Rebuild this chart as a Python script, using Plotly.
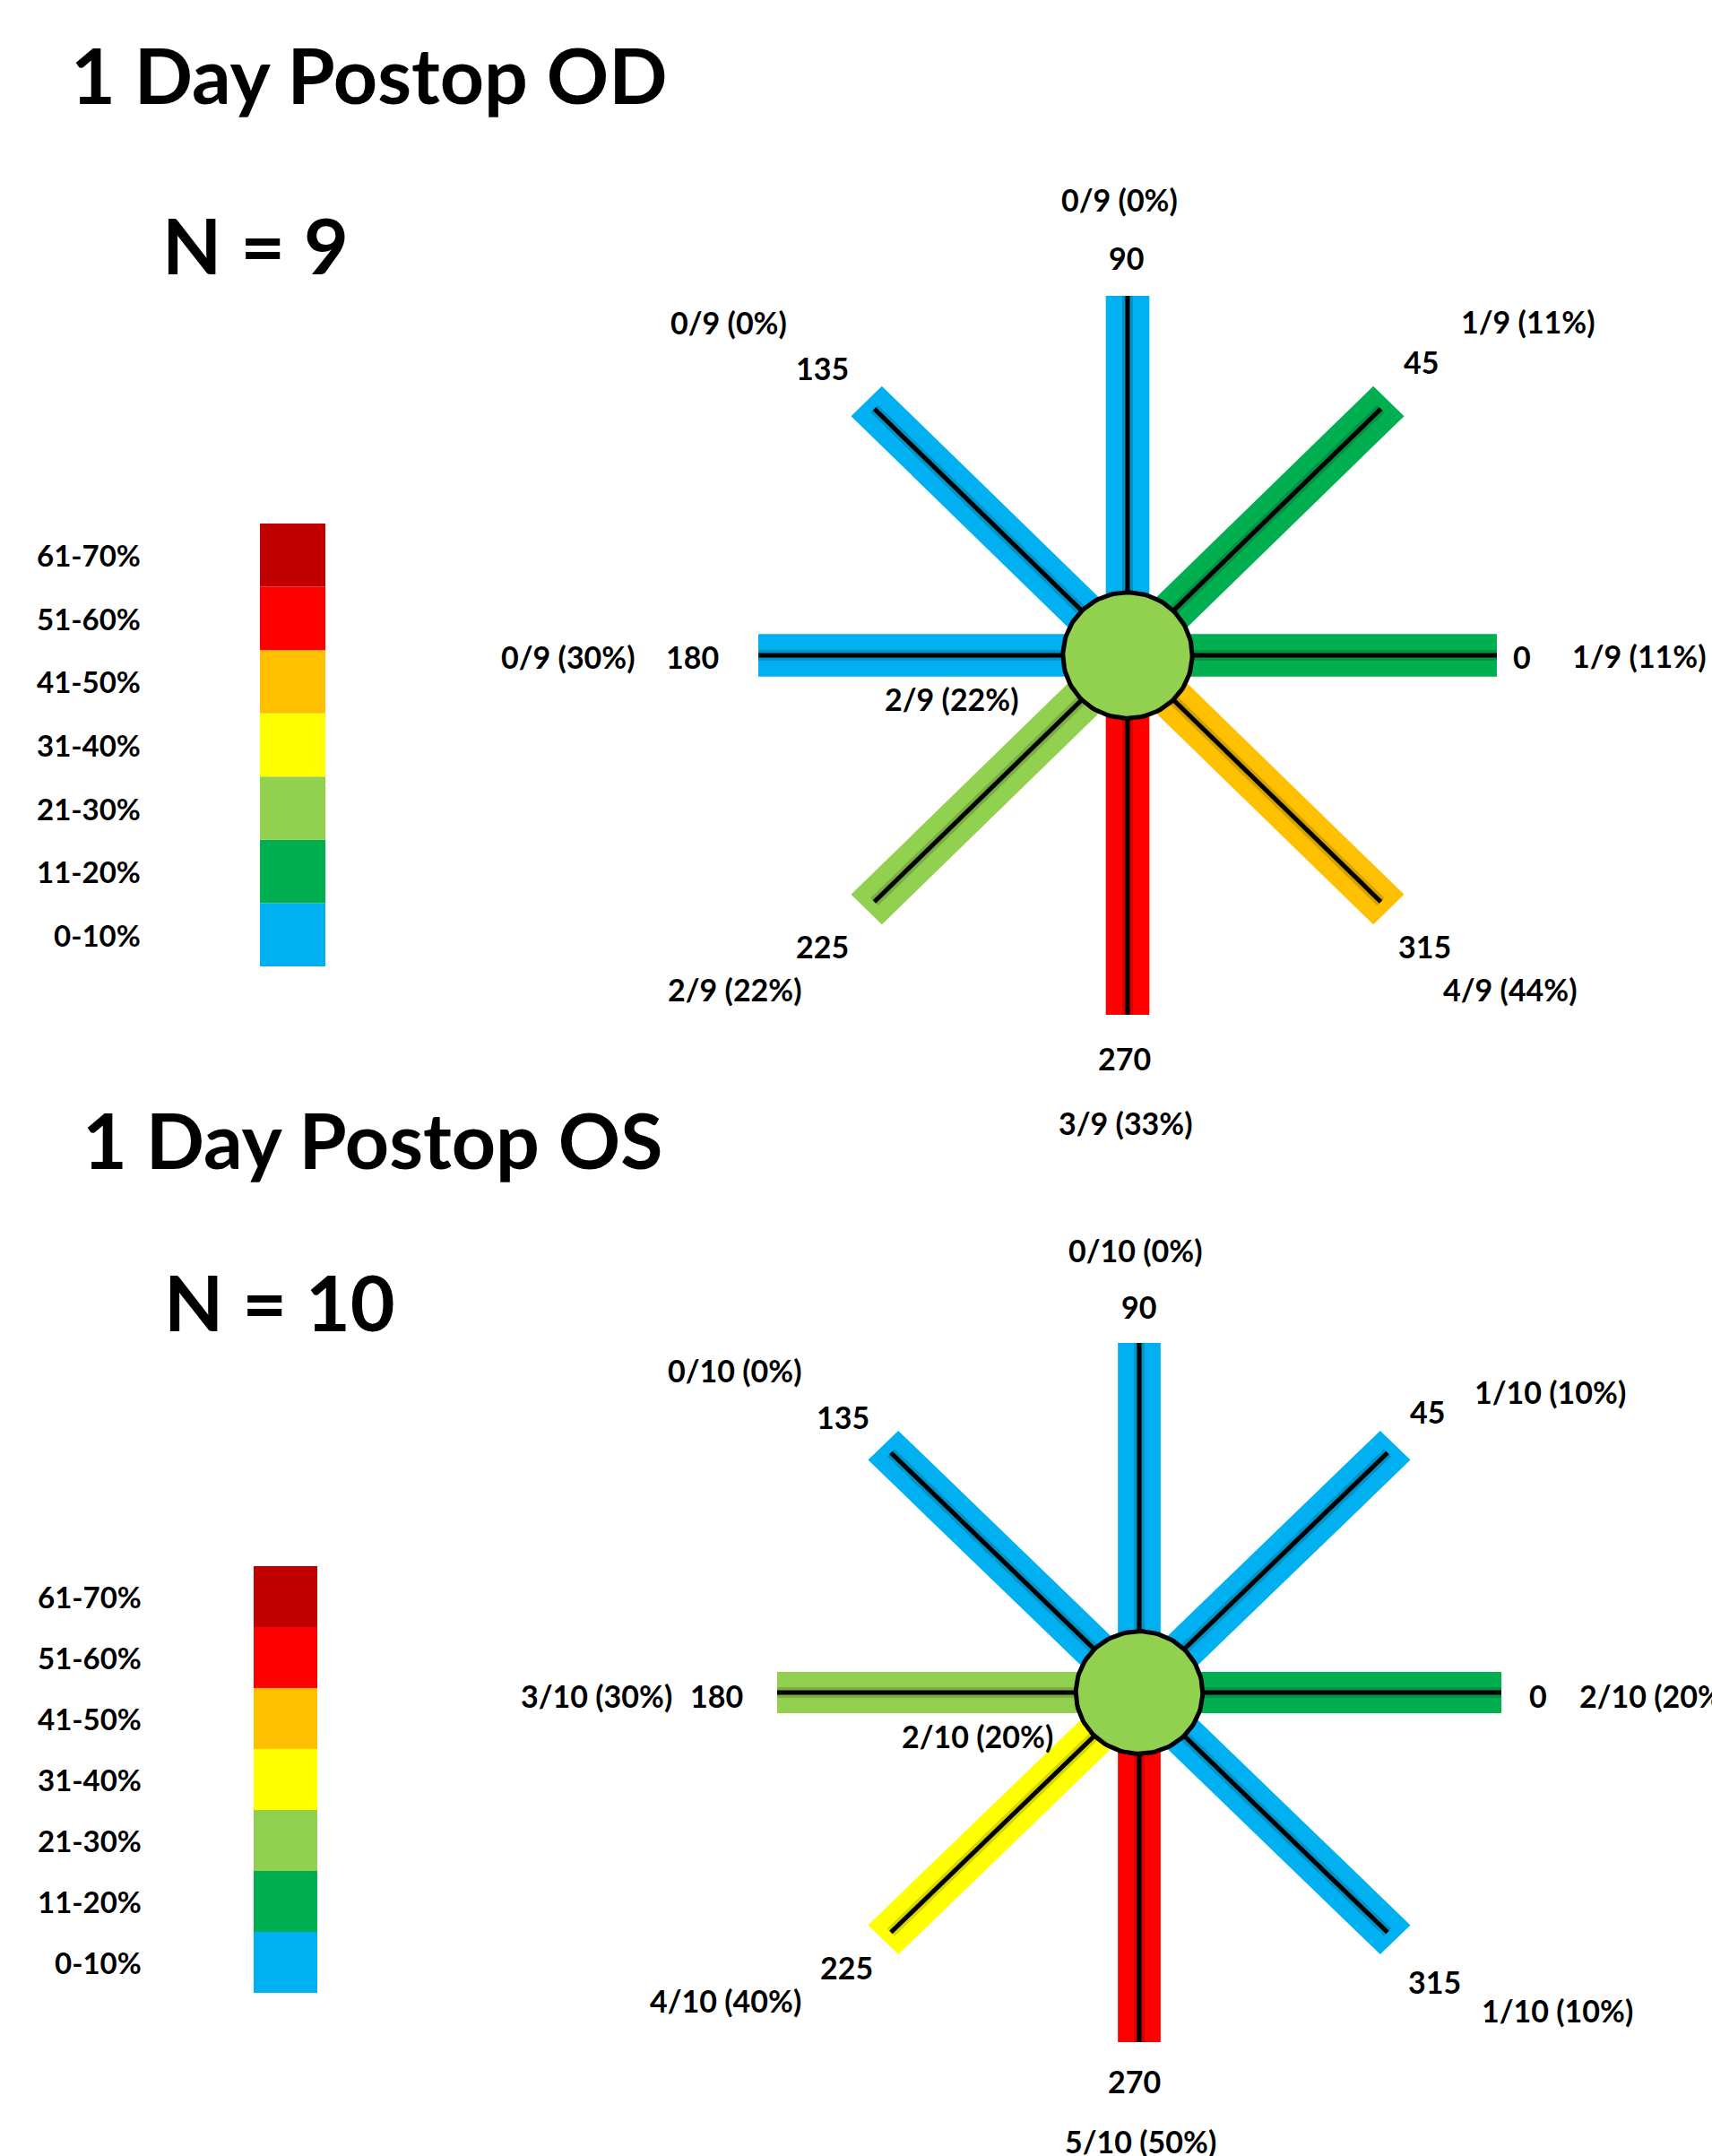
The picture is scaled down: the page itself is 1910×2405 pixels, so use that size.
import math
import plotly.graph_objects as go

# ---------------- data ----------------
angles = [0, 45, 90, 135, 180, 225, 270, 315]

legend_bins = ["0-10%", "11-20%", "21-30%", "31-40%", "41-50%", "51-60%", "61-70%"]
legend_colors = ["#00B0F0", "#00B050", "#92D050", "#FFFF00", "#FFC000", "#FF0000", "#C00000"]

od_title = "1 Day Postop OD"
od_n = 9
od_counts = [1, 1, 0, 0, 0, 2, 3, 4]
od_pct_labels = [11, 11, 0, 0, 30, 22, 33, 44]   # as printed in the figure
od_bins = [1, 1, 0, 0, 0, 2, 5, 4]               # colour bin of each arm
od_center_count = 2
od_center_pct = 22
od_center_bin = 2

os_title = "1 Day Postop OS"
os_n = 10
os_counts = [2, 1, 0, 0, 3, 4, 5, 1]
os_pct_labels = [20, 10, 0, 0, 30, 40, 50, 10]
os_bins = [1, 0, 0, 0, 2, 3, 5, 0]
os_center_count = 2
os_center_pct = 20
os_center_bin = 2

# ---------------- layout helpers ----------------
W, H = 1910, 2405
FONT = "Lato"
LBL_DY = -4  # small vertical nudge for arm labels


def px(xp):
    return xp / W


def py(yp):
    return 1 - yp / H


BAR_HALF = 0.059
CIRCLE_R = 0.175
DIAG_INSET = 0.03

diagrams = [
    dict(title=od_title, n=od_n, counts=od_counts, pcts=od_pct_labels, bins=od_bins,
         ccount=od_center_count, cpct=od_center_pct, cbin=od_center_bin,
         xa="x", ya="y", cx=1258, cy=731, sx=412, sy=401, ytop=150, ybot=1330,
         title_pos=(412, 82), n_pos=(285, 273),
         legend_x=(290, 363), legend_y=(584, 1078), legend_label_x=159,
         angle_pos={0: (1698, 737), 45: (1585, 407), 90: (1256, 291), 135: (917, 414),
                    180: (772, 737), 225: (917, 1059), 270: (1254, 1184), 315: (1589, 1059)},
         count_pos={0: (1829, 735), 45: (1705, 362), 90: (1249, 226), 135: (813, 363),
                    180: (634, 737), 225: (820, 1107), 270: (1256, 1256), 315: (1685, 1107)},
         count_left={},
         center_pos=(1062, 783)),
    dict(title=os_title, n=os_n, counts=os_counts, pcts=os_pct_labels, bins=os_bins,
         ccount=os_center_count, cpct=os_center_pct, cbin=os_center_bin,
         xa="x2", ya="y2", cx=1271, cy=1888, sx=404, sy=390, ytop=1330, ybot=2405,
         title_pos=(416, 1270), n_pos=(312, 1451),
         legend_x=(283, 354), legend_y=(1747, 2223), legend_label_x=160,
         angle_pos={0: (1716, 1895), 45: (1592, 1578), 90: (1270, 1461), 135: (940, 1584),
                    180: (799, 1895), 225: (944, 2198), 270: (1265, 2325), 315: (1600, 2214)},
         count_pos={45: (1729, 1556), 90: (1267, 1398), 135: (820, 1532),
                    180: (665, 1895), 225: (809, 2235), 270: (1272, 2392), 315: (1737, 2246)},
         count_left={0: (1760, 1895)},
         center_pos=(1090, 1940)),
]

fig = go.Figure()
annotations = []
layout_axes = {}


def ann(text, xp, yp, size, xanchor="center"):
    annotations.append(dict(
        text=text, x=px(xp), y=py(yp), xref="paper", yref="paper",
        xanchor=xanchor, yanchor="middle", showarrow=False,
        font=dict(family=FONT, size=size, color="black", weight="bold")))


for k, d in enumerate(diagrams):
    xa, ya = d["xa"], d["ya"]
    # axes mapping: 1 data unit = one arm length
    xr = [(0 - d["cx"]) / d["sx"], (W - d["cx"]) / d["sx"]]
    yr = [(d["cy"] - d["ybot"]) / d["sy"], (d["cy"] - d["ytop"]) / d["sy"]]
    xname = "xaxis" if xa == "x" else "xaxis" + xa[1:]
    yname = "yaxis" if ya == "y" else "yaxis" + ya[1:]
    layout_axes[xname] = dict(domain=[0, 1], range=xr, visible=False, fixedrange=True, anchor=ya)
    layout_axes[yname] = dict(domain=[py(d["ybot"]), py(d["ytop"])], range=yr,
                              visible=False, fixedrange=True, anchor=xa)

    # arms
    for ang, b in zip(angles, d["bins"]):
        t = math.radians(ang)
        dx, dy = math.cos(t), math.sin(t)
        pxv, pyv = -dy, dx
        xs = [BAR_HALF * pxv, dx + BAR_HALF * pxv, dx - BAR_HALF * pxv, -BAR_HALF * pxv, BAR_HALF * pxv]
        ys = [BAR_HALF * pyv, dy + BAR_HALF * pyv, dy - BAR_HALF * pyv, -BAR_HALF * pyv, BAR_HALF * pyv]
        col = legend_colors[b]
        fig.add_trace(go.Scatter(x=xs, y=ys, mode="lines", fill="toself", fillcolor=col,
                                 line=dict(color=col, width=0), hoverinfo="skip",
                                 showlegend=False, xaxis=xa, yaxis=ya))
        L = 1 - (DIAG_INSET if ang % 90 else 0)
        fig.add_trace(go.Scatter(x=[0, L * dx], y=[0, L * dy], mode="lines",
                                 line=dict(color="rgba(0,0,0,0.16)", width=12),
                                 hoverinfo="skip", showlegend=False, xaxis=xa, yaxis=ya))
        fig.add_trace(go.Scatter(x=[0, L * dx], y=[0, L * dy], mode="lines",
                                 line=dict(color="black", width=5),
                                 hoverinfo="skip", showlegend=False, xaxis=xa, yaxis=ya))

    # centre circle
    cxs = [CIRCLE_R * math.cos(2 * math.pi * i / 120) for i in range(121)]
    cys = [CIRCLE_R * math.sin(2 * math.pi * i / 120) for i in range(121)]
    fig.add_trace(go.Scatter(x=cxs, y=cys, mode="lines", fill="toself",
                             fillcolor=legend_colors[d["cbin"]],
                             line=dict(color="black", width=5), hoverinfo="skip",
                             showlegend=False, xaxis=xa, yaxis=ya))

    # legend colour bar
    lxa = "x%d" % (3 + k)
    lya = "y%d" % (3 + k)
    layout_axes["xaxis%d" % (3 + k)] = dict(domain=[px(d["legend_x"][0]), px(d["legend_x"][1])],
                                          range=[-0.5, 0.5], visible=False, fixedrange=True, anchor=lya)
    layout_axes["yaxis%d" % (3 + k)] = dict(domain=[py(d["legend_y"][1]), py(d["legend_y"][0])],
                                          range=[0, len(legend_bins)], visible=False,
                                          fixedrange=True, anchor=lxa)
    fig.add_trace(go.Bar(x=[0] * len(legend_bins), y=[1] * len(legend_bins),
                         base=list(range(len(legend_bins))), width=1,
                         marker=dict(color=legend_colors, line=dict(width=0)),
                         hoverinfo="skip", showlegend=False, xaxis=lxa, yaxis=lya))
    for i, lab in enumerate(legend_bins):
        annotations.append(dict(
            text=lab, x=px(d["legend_label_x"]), y=i + 0.5, xref="paper", yref=lya,
            xanchor="right", yanchor="middle", showarrow=False,
            font=dict(family=FONT, size=33, color="black", weight="bold")))

    # titles
    ann(d["title"], d["title_pos"][0], d["title_pos"][1], 86)
    ann("N = %d" % d["n"], d["n_pos"][0], d["n_pos"][1], 86)

    # arm labels
    for ang, c, p in zip(angles, d["counts"], d["pcts"]):
        ax_, ay_ = d["angle_pos"][ang]
        ann(str(ang), ax_, ay_ + LBL_DY, 34)
        txt = "%d/%d (%d%%)" % (c, d["n"], p)
        if ang in d["count_left"]:
            lx, ly = d["count_left"][ang]
            ann(txt, lx, ly + LBL_DY, 34, xanchor="left")
        else:
            lx, ly = d["count_pos"][ang]
            ann(txt, lx, ly + LBL_DY, 34)
    ann("%d/%d (%d%%)" % (d["ccount"], d["n"], d["cpct"]),
        d["center_pos"][0], d["center_pos"][1] + LBL_DY, 34)

fig.update_layout(
    width=W, height=H,
    margin=dict(l=0, r=0, t=0, b=0),
    paper_bgcolor="white",
    plot_bgcolor="rgba(0,0,0,0)",
    barmode="overlay",
    showlegend=False,
    annotations=annotations,
    **layout_axes,
)

fig.write_html("out.html", config={"displayModeBar": False},
               post_script="document.body.style.margin='0px';")
